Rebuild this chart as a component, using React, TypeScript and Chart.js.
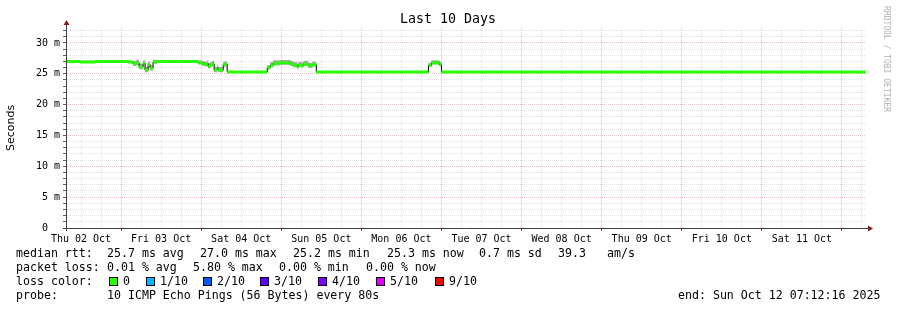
import React, { useEffect, useRef } from 'react';
import { Chart, registerables } from 'chart.js';

Chart.register(...registerables);

// hours since Thu 02 Oct 00:00
const timeHours = [
  7.5, 11.7, 16.2, 20.7, 26.1, 27.6, 28.5, 29.4, 30.6, 31.2, 32.1, 32.7, 33.6, 34.8, 40.2,
  47.1, 48.3, 49.2, 49.8, 50.1, 50.7, 51.3, 51.9, 52.8, 53.1, 54.6, 55.5, 55.8, 62.7,
  67.8, 68.7, 69.6, 71.7, 74.7, 75.6, 76.8, 77.1, 78.3, 78.6, 80.1, 81.3, 82.2, 82.5,
  95.7, 107.7, 115.8, 116.1, 117.0, 118.2, 119.4, 120.0, 137.7, 167.7, 197.7, 227.7, 247.2,
];
// median rtt (ms)
const medianRtt = [
  27.0, 26.9, 27.0, 27.0, 26.9, 26.6, 26.8, 26.1, 26.7, 25.6, 26.5, 25.9, 26.9, 27.0, 27.0,
  26.8, 26.6, 26.5, 26.7, 26.2, 26.4, 26.6, 25.6, 26.0, 25.6, 26.5, 26.6, 25.3, 25.3,
  26.0, 26.4, 26.7, 26.8, 26.6, 26.4, 26.1, 26.4, 26.3, 26.6, 26.3, 26.5, 26.5, 25.3,
  25.3, 25.3, 25.3, 26.4, 26.8, 26.8, 26.5, 25.3, 25.3, 25.3, 25.3, 25.3, 25.3,
];
// smoke spread around the median (ms)
const smokeSpread = [
  0.2, 0.2, 0.15, 0.15, 0.25, 0.5, 0.5, 0.5, 0.5, 0.5, 0.5, 0.5, 0.4, 0.15, 0.15,
  0.4, 0.45, 0.45, 0.5, 0.5, 0.5, 0.5, 0.5, 0.5, 0.5, 0.5, 0.4, 0.12, 0.12,
  0.4, 0.5, 0.5, 0.45, 0.5, 0.5, 0.5, 0.5, 0.5, 0.5, 0.5, 0.5, 0.4, 0.12,
  0.12, 0.12, 0.12, 0.4, 0.4, 0.4, 0.4, 0.12, 0.12, 0.12, 0.12, 0.12, 0.12,
];

const xMin = 7.5;
const xMax = 247.2;
const yMin = 0;
const yMax = 32.43;

const xTickHours = [
  12, 18, 24, 30, 36, 42, 48, 54, 60, 66, 72, 78, 84, 90, 96, 102, 108, 114, 120, 126,
  132, 138, 144, 150, 156, 162, 168, 174, 180, 186, 192, 198, 204, 210, 216, 222, 228,
  234, 240, 246,
];
const dayLabels = [
  'Thu 02 Oct', 'Fri 03 Oct', 'Sat 04 Oct', 'Sun 05 Oct', 'Mon 06 Oct',
  'Tue 07 Oct', 'Wed 08 Oct', 'Thu 09 Oct', 'Fri 10 Oct', 'Sat 11 Oct',
];
const yTickValues = [
  0, 1, 2, 3, 4, 5, 6, 7, 8, 9, 10, 11, 12, 13, 14, 15, 16, 17, 18, 19, 20, 21, 22, 23,
  24, 25, 26, 27, 28, 29, 30, 31, 32,
];

const title = 'Last 10 Days';
const yTitle = 'Seconds';
const watermark = 'RRDTOOL / TOBI OETIKER';

const legendRtt = [
  ['median rtt:', 16], ['25.7 ms avg', 107], ['27.0 ms max', 200], ['25.2 ms min', 293],
  ['25.3 ms now', 387], ['0.7 ms sd', 479], ['39.3', 558], ['am/s', 607],
];
const legendLoss = [
  ['packet loss:', 16], ['0.01 % avg', 107], ['5.80 % max', 193], ['0.00 % min', 279],
  ['0.00 % now', 366],
];
const lossLabels = ['0', '1/10', '2/10', '3/10', '4/10', '5/10', '9/10'];
const lossColors = ['#26ff00', '#00b8ff', '#0059ff', '#5e00ff', '#7e00ff', '#dd00ff', '#ff0000'];
const lossBoxX = [109, 146, 203, 260, 318, 376, 435];
const probeText = '10 ICMP Echo Pings (56 Bytes) every 80s';
const endText = 'end: Sun Oct 12 07:12:16 2025';

const MONO = '"DejaVu Sans Mono", monospace';
const GRID_MINOR = 'rgba(200,200,200,0.55)';
const GRID_MAJOR = 'rgba(232,130,130,0.55)';

const textPlugin = {
  id: 'rrdText',
  afterDraw(chart: any) {
    const ctx = chart.ctx as CanvasRenderingContext2D;
    const ca = chart.chartArea;
    ctx.save();
    // axes with arrows
    ctx.strokeStyle = '#404040';
    ctx.lineWidth = 1;
    ctx.beginPath();
    ctx.moveTo(ca.left - 3, ca.bottom + 0.5);
    ctx.lineTo(ca.right + 2, ca.bottom + 0.5);
    ctx.moveTo(ca.left + 0.5, ca.bottom + 3);
    ctx.lineTo(ca.left + 0.5, ca.top - 4);
    ctx.stroke();
    ctx.fillStyle = '#8b1a1a';
    ctx.beginPath();
    ctx.moveTo(ca.right + 7, ca.bottom + 0.5);
    ctx.lineTo(ca.right + 2, ca.bottom - 2.5);
    ctx.lineTo(ca.right + 2, ca.bottom + 3.5);
    ctx.closePath();
    ctx.fill();
    ctx.beginPath();
    ctx.moveTo(ca.left + 0.5, ca.top - 8);
    ctx.lineTo(ca.left - 2.5, ca.top - 3);
    ctx.lineTo(ca.left + 3.5, ca.top - 3);
    ctx.closePath();
    ctx.fill();

    // title
    ctx.fillStyle = '#000';
    ctx.textBaseline = 'middle';
    ctx.textAlign = 'center';
    ctx.font = `13.3px ${MONO}`;
    ctx.fillText(title, 448, 20);

    // y title
    ctx.save();
    ctx.translate(11, (ca.top + ca.bottom) / 2);
    ctx.rotate(-Math.PI / 2);
    ctx.font = '11px "DejaVu Sans", sans-serif';
    ctx.fillText(yTitle, 0, 0);
    ctx.restore();

    // watermark
    ctx.save();
    ctx.translate(886, 59);
    ctx.rotate(Math.PI / 2);
    ctx.font = `8px ${MONO}`;
    ctx.fillStyle = '#b0b0b0';
    ctx.fillText(watermark, 0, 0);
    ctx.restore();

    // legend
    ctx.textAlign = 'left';
    ctx.font = `11.6px ${MONO}`;
    ctx.fillStyle = '#000';
    legendRtt.forEach(([t, x]) => ctx.fillText(t as string, x as number, 254));
    legendLoss.forEach(([t, x]) => ctx.fillText(t as string, x as number, 268));
    ctx.fillText('loss color:', 16, 282);
    lossLabels.forEach((lab, i) => {
      const bx = lossBoxX[i];
      ctx.fillStyle = lossColors[i];
      ctx.fillRect(bx, 277, 9, 9);
      ctx.strokeStyle = '#000';
      ctx.strokeRect(bx + 0.5, 277.5, 8, 8);
      ctx.fillStyle = '#000';
      ctx.fillText(lab, bx + 14, 282);
    });
    ctx.fillText('probe:', 16, 296);
    ctx.fillText(probeText, 107, 296);
    ctx.fillText(endText, 678, 296);
    ctx.restore();
  },
};

export default function App() {
  const ref = useRef<HTMLCanvasElement | null>(null);
  useEffect(() => {
    if (!ref.current) return;
    const n = timeHours.length;
    const pts = (arr: number[]) => timeHours.map((t, i) => ({ x: t, y: arr[i] }));
    const hi = medianRtt.map((v, i) => v + smokeSpread[i]);
    const lo = medianRtt.map((v, i) => v - smokeSpread[i] * 0.7);
    const green: any[] = [];
    for (let i = 0; i < n - 1; i++) {
      green.push({ x: timeHours[i], y: medianRtt[i] });
      green.push({ x: timeHours[i + 1], y: medianRtt[i] });
      green.push({ x: timeHours[i + 1], y: null });
    }
    const chart = new Chart(ref.current, {
      type: 'line',
      data: {
        datasets: [
          { order: 3, data: pts(lo), borderWidth: 0, borderColor: 'transparent', pointRadius: 0, stepped: true, fill: false },
          { order: 2, data: pts(hi), borderWidth: 0, borderColor: 'transparent', backgroundColor: 'rgba(140,140,140,0.75)', pointRadius: 0, stepped: true, fill: '-1' },
          { order: 1, data: pts(medianRtt), borderWidth: 1, borderColor: '#000000', pointRadius: 0, stepped: true, fill: false },
          { order: 0, data: green, borderWidth: 3, borderColor: lossColors[0], pointRadius: 0, spanGaps: false, fill: false, borderCapStyle: 'butt' },
        ],
      },
      options: {
        responsive: false,
        animation: false,
        devicePixelRatio: 1,
        layout: { padding: { left: 0, top: 28, right: 31, bottom: 0 } },
        plugins: { legend: { display: false }, tooltip: { enabled: false }, title: { display: false } },
        scales: {
          x: {
            type: 'linear',
            min: xMin,
            max: xMax,
            afterFit: (s: any) => { s.height = 82; },
            afterBuildTicks: (s: any) => { s.ticks = xTickHours.map((v) => ({ value: v })); },
            ticks: {
              autoSkip: false,
              maxRotation: 0,
              padding: 2,
              color: '#000',
              font: { family: MONO, size: 10 },
              callback: (v: any) => ((v - 12) % 24 === 0 ? dayLabels[(v - 12) / 24] : ''),
            },
            grid: {
              color: (c: any) => (c.tick && c.tick.value % 24 === 0 ? GRID_MAJOR : GRID_MINOR),
              tickColor: (c: any) => (c.tick && c.tick.value % 24 === 0 ? '#c04040' : 'transparent'),
              tickLength: 3,
              lineWidth: 1,
            },
            border: { display: false, dash: [1, 1] },
          },
          y: {
            type: 'linear',
            min: yMin,
            max: yMax,
            afterFit: (s: any) => { s.width = 66; },
            afterBuildTicks: (s: any) => { s.ticks = yTickValues.map((v) => ({ value: v })); },
            ticks: {
              autoSkip: false,
              padding: 3,
              color: '#000',
              font: { family: MONO, size: 10 },
              callback: (v: any) => (v % 5 === 0 ? (v === 0 ? '0  ' : `${v} m`) : ''),
            },
            grid: {
              color: (c: any) => (c.tick && c.tick.value % 5 === 0 ? GRID_MAJOR : GRID_MINOR),
              tickColor: '#606060',
              tickLength: 3,
              lineWidth: 1,
            },
            border: { display: false, dash: [1, 1] },
          },
        },
      },
      plugins: [textPlugin],
    } as any);
    return () => chart.destroy();
  }, []);
  return (
    <div style={{ position: 'absolute', left: 0, top: 0, width: 897, height: 310, background: '#fff' }}>
      <canvas ref={ref} width={897} height={310} style={{ display: 'block', width: 897, height: 310 }} />
    </div>
  );
}
